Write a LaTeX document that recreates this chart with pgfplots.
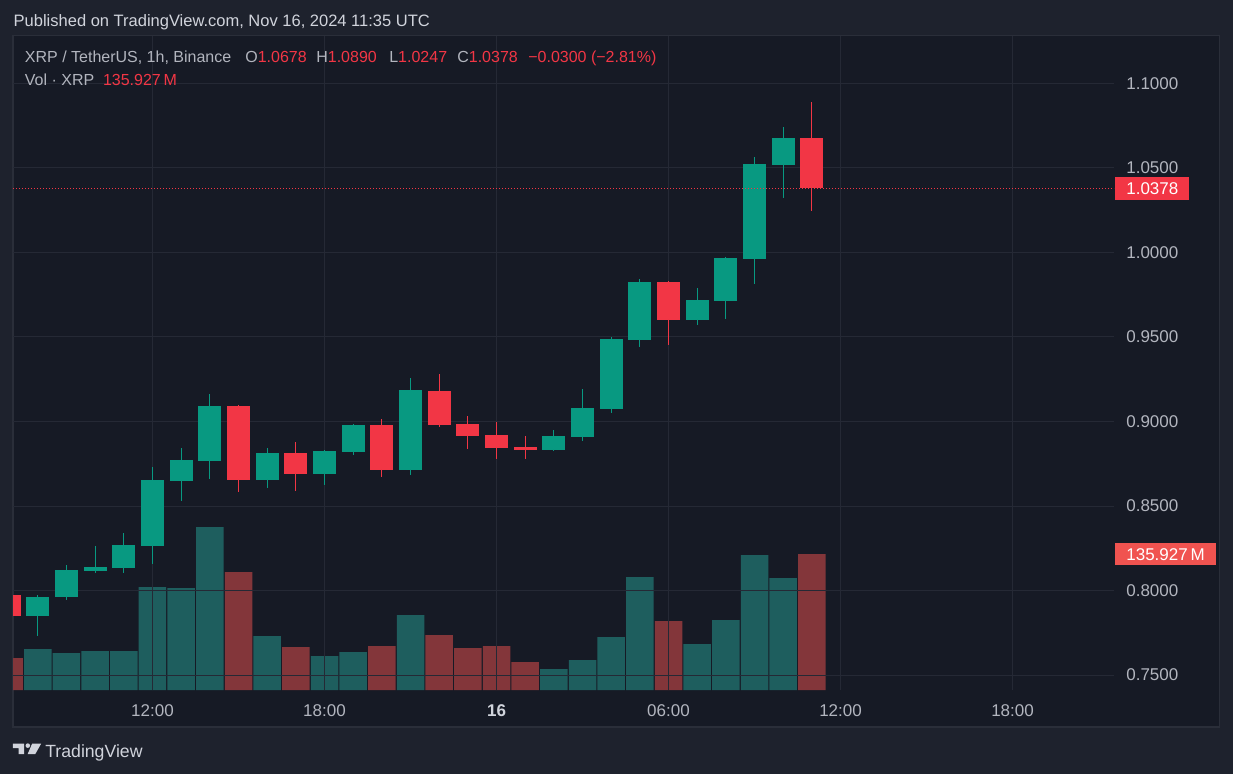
\documentclass[border=0pt]{standalone}
\usepackage{fontspec}
\setmainfont{Liberation Sans}
\usepackage{pgfplots}
\pgfplotsset{compat=1.18}
\usepackage{pgfplotstable}
\definecolor{bgout}{HTML}{1E222D}
\definecolor{panel}{HTML}{161A25}
\definecolor{border}{HTML}{2A2E39}
\definecolor{gridc}{HTML}{252935}
\definecolor{cgreen}{HTML}{089981}
\definecolor{cred}{HTML}{F23645}
\definecolor{vgreen}{RGB}{30,94,94}
\definecolor{vred}{RGB}{131,54,58}
\definecolor{tickc}{HTML}{B2B5BE}
\definecolor{titlec}{HTML}{D1D4DC}
\definecolor{volbox}{RGB}{240,83,80}

% t = hours from Nov 15 00:00 (UTC)
\pgfplotstableread{
t O H L C V
8 0.7852 0.7974 0.7733 0.7962 41
9 0.7964 0.8151 0.7946 0.8122 37
10 0.8118 0.8264 0.8106 0.8140 39
11 0.8135 0.8341 0.8106 0.8270 39
12 0.8266 0.8731 0.8159 0.8654 103
13 0.8650 0.8843 0.8532 0.8772 102
14 0.8768 0.9163 0.8662 0.9092 163
16 0.8656 0.8843 0.8609 0.8814 54
18 0.8691 0.8831 0.8626 0.8826 34
19 0.8822 0.8985 0.8804 0.8979 38
21 0.8715 0.9258 0.8685 0.9186 75
26 0.8833 0.8950 0.8827 0.8914 21
27 0.8910 0.9192 0.8886 0.9080 30
28 0.9076 0.9500 0.9052 0.9488 53
29 0.9484 0.9843 0.9442 0.9825 113
31 0.9602 0.9789 0.9572 0.9719 46
32 0.9714 0.9973 0.9608 0.9967 70
33 0.9961 1.0564 0.9815 1.0523 135
34 1.0517 1.0742 1.0323 1.0678 112
}\greentab

\pgfplotstableread{
t O H L C V
7 0.7974 0.7974 0.7852 0.7852 32
15 0.9092 0.9095 0.8585 0.8656 118
17 0.8814 0.8879 0.8591 0.8691 43
20 0.8979 0.9015 0.8674 0.8715 44
22 0.9180 0.9281 0.8969 0.8981 55
23 0.8985 0.9033 0.8839 0.8916 42
24 0.8920 0.8999 0.8780 0.8845 44
25 0.8849 0.8914 0.8780 0.8833 28
30 0.9825 0.9831 0.9454 0.9602 69
35 1.0678 1.0890 1.0247 1.0378 135.927
}\redtab

\pgfplotsset{candle/.style={only marks, mark=*, mark size=0pt,
  mark options={draw=none, fill=none},
  error bars/.cd, y dir=plus, y explicit, error mark=none}}

\begin{document}
\begin{tikzpicture}
\begin{scope}[x=0.6pt,y=-0.6pt]
\fill[bgout] (0,0) rectangle (1233,774);
\filldraw[fill=panel, draw=border, line width=0.9pt] (13,35.5) rectangle (1219.5,727);
\end{scope}

% ---------- volume pane ----------
\begin{axis}[
  at={(7.8pt,-414pt)}, anchor=south west,
  scale only axis, width=660.6pt, height=392.4pt,
  xmin=7.134, xmax=45.54, ymin=0, ymax=654,
  hide axis, clip mode=individual,
]
\addplot[ybar, bar width=16.5pt, bar shift=0pt, fill=vgreen, draw=none]
  table[x=t, y=V] {\greentab};
\addplot[ybar, bar width=16.5pt, bar shift=0pt, fill=vred, draw=none]
  table[x=t, y=V] {\redtab};
\end{axis}

% ---------- price pane ----------
\begin{axis}[
  at={(7.8pt,-414pt)}, anchor=south west,
  scale only axis, width=660.6pt, height=392.4pt,
  xmin=7.134, xmax=45.54, ymin=0.7412, ymax=1.12797,
  axis line style={draw=none},
  major tick length=0pt,
  grid=major, major grid style={color=gridc, line width=0.6pt},
  xtick={12,18,24,30,36,42},
  xticklabels={12:00,18:00,{\textbf{\color{titlec}16}},06:00,12:00,18:00},
  xticklabel style={anchor=center, yshift=-12.3pt, inner sep=0pt,
    font=\fontsize{10.2}{12}\selectfont, text=tickc},
  ytick={0.75,0.80,0.85,0.90,0.95,1.00,1.05,1.10},
  yticklabel pos=right,
  yticklabel style={anchor=west, inner sep=0pt, xshift=7.2pt,
    font=\fontsize{10.2}{12}\selectfont, text=tickc,
    /pgf/number format/fixed, /pgf/number format/fixed zerofill,
    /pgf/number format/precision=4},
  /pgf/number format/assume math mode=true,
  clip mode=individual,
]
% wicks
\addplot[candle, error bar style={line width=0.6pt, color=cgreen}]
  table[x=t, y=L, y error plus expr=\thisrow{H}-\thisrow{L}] {\greentab};
\addplot[candle, error bar style={line width=0.6pt, color=cred}]
  table[x=t, y=L, y error plus expr=\thisrow{H}-\thisrow{L}] {\redtab};
% bodies
\addplot[candle, error bar style={line width=13.8pt, color=cgreen}]
  table[x=t, y=O, y error plus expr=\thisrow{C}-\thisrow{O}] {\greentab};
\addplot[candle, error bar style={line width=13.8pt, color=cred}]
  table[x=t, y=C, y error plus expr=\thisrow{O}-\thisrow{C}] {\redtab};
% last price line
\addplot[cred, line width=0.7pt, dash pattern=on 0.8pt off 1.0pt]
  coordinates {(7.134,1.0378) (45.54,1.0378)};
\end{axis}

\begin{scope}[x=0.6pt,y=-0.6pt]
% header texts
\node[anchor=base west, inner sep=0pt, text=titlec, font=\fontsize{9.9}{12}\selectfont]
  at (13.4,26) {Published on TradingView.com, Nov 16, 2024 11:35 UTC};
\begin{scope}[every node/.style={anchor=base west, inner sep=0pt, font=\fontsize{9.6}{12}\selectfont}]
\node[text=tickc] at (24.6,62) {XRP / TetherUS, 1h, Binance};
\node at (245,62) {\color{tickc}O\color{cred}1.0678};
\node at (316,62) {\color{tickc}H\color{cred}1.0890};
\node at (389,62) {\color{tickc}L\color{cred}1.0247};
\node at (457,62) {\color{tickc}C\color{cred}1.0378};
\node[text=cred] at (528,62) {−0.0300 (−2.81\%)};
\node[text=tickc] at (24.6,85) {Vol · XRP};
\node[text=cred] at (102.7,85) {135.927\,M};
\end{scope}
% price / volume labels
\node[fill=cred, text=white, anchor=west, inner xsep=6.6pt, minimum height=13.4pt,
  inner ysep=0pt, font=\fontsize{10.2}{12}\selectfont] at (1115,188.5) {1.0378};
\node[fill=volbox, text=white, anchor=west, inner xsep=6.6pt, minimum height=13.4pt,
  inner ysep=0pt, font=\fontsize{10.2}{12}\selectfont] at (1115,554.3) {135.927\,M};
% TradingView logo
\fill[titlec] (12.8,743.5) -- (24.2,743.5) -- (24.2,754.2) -- (18.6,754.2) -- (18.6,748.2) -- (12.8,748.2) -- cycle;
\fill[titlec] (27.8,745.6) circle (2.3);
\fill[titlec] (32.2,743.5) -- (41.2,743.5) -- (35.2,754.2) -- (27.6,754.2) -- cycle;
\node[anchor=base west, inner sep=0pt, text=titlec, font=\fontsize{10.6}{12}\selectfont]
  at (45,757) {TradingView};
\end{scope}
\pgfresetboundingbox
\path[use as bounding box] (0,0) rectangle (739.8pt,-464.4pt);
\end{tikzpicture}
\end{document}
